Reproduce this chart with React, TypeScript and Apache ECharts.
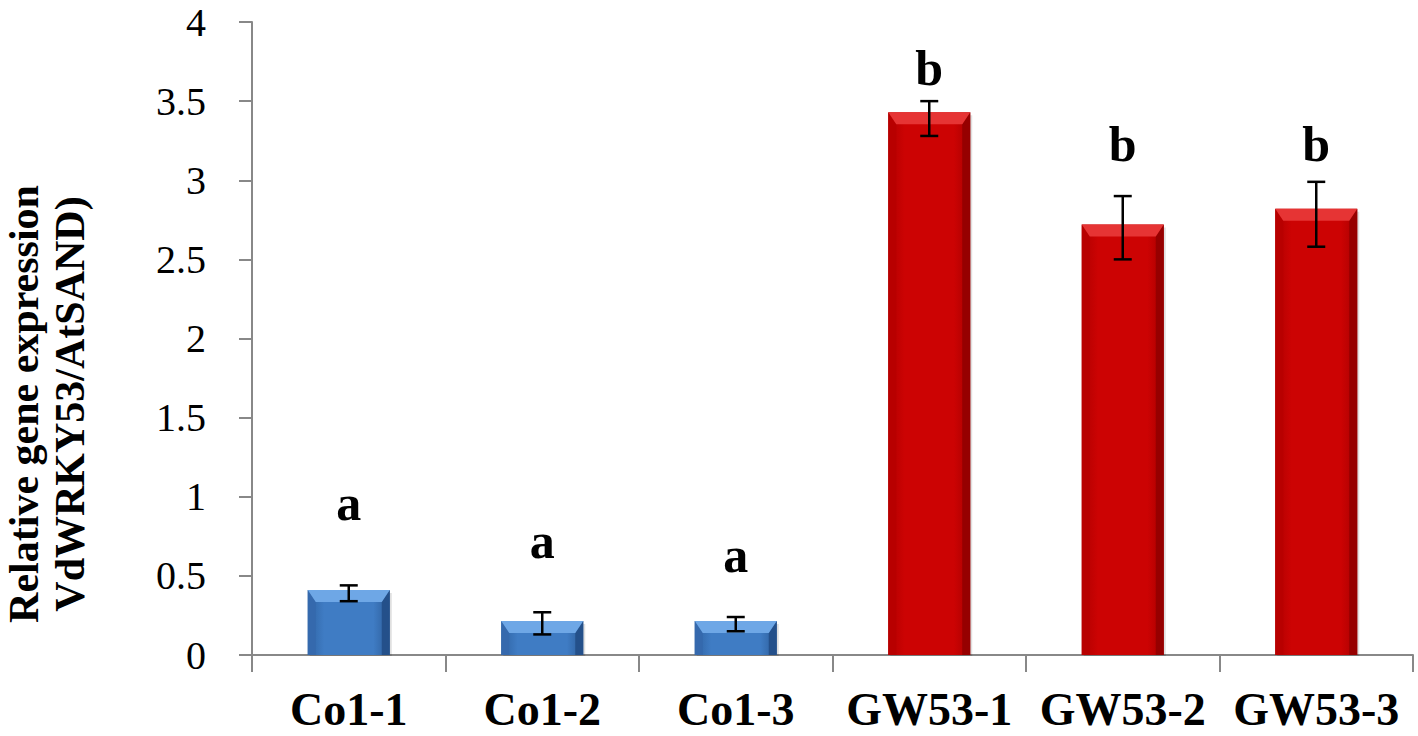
import React, { useEffect, useRef } from "react";
import * as echarts from "echarts";

const categories = ["Co1-1", "Co1-2", "Co1-3", "GW53-1", "GW53-2", "GW53-3"];
const means = [0.41, 0.215, 0.215, 3.43, 2.72, 2.82];
const errLow = [0.34, 0.13, 0.15, 3.28, 2.5, 2.58];
const errHigh = [0.44, 0.27, 0.24, 3.5, 2.9, 2.99];
const letters = ["a", "a", "a", "b", "b", "b"];
const letterPos = [0.96, 0.72, 0.635, 3.71, 3.23, 3.23];
const groups = ["blue", "blue", "blue", "red", "red", "red"];
const yTitle = "Relative gene expression\nVdWRKY53/AtSAND)";

const FONT = "'Liberation Serif', 'Times New Roman', serif";

const palette: Record<string, any> = {
  blue: { body: ["#2f63a3", "#3f7cc4", "#3f7cc4", "#2c5c98"], top: "#6ea7e6", left: "#3569ad", right: "#24508a" },
  red: { body: ["#b00000", "#cc0303", "#cc0303", "#a80000"], top: "#e63434", left: "#b80000", right: "#960000" },
};

export default function App() {
  const ref = useRef<HTMLDivElement>(null);
  useEffect(() => {
    if (!ref.current) return;
    const chart = echarts.init(ref.current, null, { renderer: "svg" });
    const barData = means.map((v, i) => [i, v]);
    const errData = means.map((_, i) => [i, errLow[i], errHigh[i]]);
    const letterData = letterPos.map((v, i) => ({ value: [i, v], label: { formatter: letters[i] } }));

    const BW = 82;
    chart.setOption({
      animation: false,
      backgroundColor: "#ffffff",
      grid: { left: 252, right: 5, top: 22, bottom: 81, containLabel: false },
      xAxis: {
        type: "category",
        data: categories,
        axisLine: { lineStyle: { color: "#888888", width: 2 } },
        axisTick: { show: true, length: 17, lineStyle: { color: "#888888", width: 2 } },
        axisLabel: {
          fontFamily: FONT,
          fontWeight: "bold",
          fontSize: 46,
          lineHeight: 42,
          color: "#000",
          margin: 33,
          interval: 0,
        },
      },
      yAxis: {
        type: "value",
        min: 0,
        max: 4,
        interval: 0.5,
        splitLine: { show: false },
        axisLine: { show: true, lineStyle: { color: "#888888", width: 2 } },
        axisTick: { show: true, length: 13, lineStyle: { color: "#888888", width: 2 } },
        axisLabel: { fontFamily: FONT, fontSize: 40, lineHeight: 34, color: "#000", margin: 46 },
      },
      graphic: [
        {
          type: "text",
          x: 47,
          y: 404,
          rotation: Math.PI / 2,
          style: {
            text: yTitle,
            fontFamily: FONT,
            fontWeight: "bold",
            fontSize: 42,
            lineHeight: 46,
            fill: "#000",
            align: "center",
            verticalAlign: "middle",
          },
        },
      ],
      series: [
        {
          type: "custom",
          data: barData,
          encode: { x: 0, y: 1 },
          z: 2,
          renderItem: (params: any, api: any) => {
            const idx = params.dataIndex;
            const p = palette[groups[idx]];
            const top = api.coord([api.value(0), api.value(1)]);
            const base = api.coord([api.value(0), 0]);
            const l = top[0] - BW / 2;
            const r = top[0] + BW / 2;
            const t = top[1];
            const b = base[1];
            const bv = 8;
            const bh = Math.min(12, (b - t) / 2);
            return {
              type: "group",
              children: [
                {
                  type: "rect",
                  shape: { x: l + 2, y: t + 3, width: BW, height: b - t - 2 },
                  style: { fill: "rgba(0,0,0,0.12)" },
                },
                {
                  type: "rect",
                  shape: { x: l, y: t, width: BW, height: b - t },
                  style: {
                    fill: new echarts.graphic.LinearGradient(0, 0, 1, 0, [
                      { offset: 0, color: p.body[0] },
                      { offset: 0.2, color: p.body[1] },
                      { offset: 0.8, color: p.body[2] },
                      { offset: 1, color: p.body[3] },
                    ]),
                  },
                },
                {
                  type: "polygon",
                  shape: { points: [[l, t], [l + bv, t + bh], [l + bv, b], [l, b]] },
                  style: { fill: p.left },
                },
                {
                  type: "polygon",
                  shape: { points: [[r, t], [r - bv, t + bh], [r - bv, b], [r, b]] },
                  style: { fill: p.right },
                },
                {
                  type: "polygon",
                  shape: { points: [[l, t], [r, t], [r - bv, t + bh], [l + bv, t + bh]] },
                  style: { fill: p.top },
                },
              ],
            };
          },
        },
        {
          type: "custom",
          data: errData,
          encode: { x: 0, y: [1, 2] },
          z: 3,
          renderItem: (params: any, api: any) => {
            const lo = api.coord([api.value(0), api.value(1)]);
            const hi = api.coord([api.value(0), api.value(2)]);
            const cx = lo[0];
            const cw = 9;
            const st = { stroke: "#000", lineWidth: 2.5 };
            return {
              type: "group",
              children: [
                { type: "line", shape: { x1: cx, y1: lo[1], x2: cx, y2: hi[1] }, style: st },
                { type: "line", shape: { x1: cx - cw, y1: lo[1], x2: cx + cw, y2: lo[1] }, style: st },
                { type: "line", shape: { x1: cx - cw, y1: hi[1], x2: cx + cw, y2: hi[1] }, style: st },
              ],
            };
          },
        },
        {
          type: "scatter",
          data: letterData,
          symbolSize: 0,
          z: 4,
          itemStyle: { opacity: 1 },
          label: {
            show: true,
            position: "inside",
            fontFamily: FONT,
            fontWeight: "bold",
            fontSize: 50,
            color: "#000",
          },
          emphasis: { disabled: true },
        },
      ],
    });
    return () => chart.dispose();
  }, []);
  return (
    <div
      ref={ref}
      style={{ position: "fixed", left: 0, top: 0, width: 1418, height: 736, background: "#fff" }}
    />
  );
}
